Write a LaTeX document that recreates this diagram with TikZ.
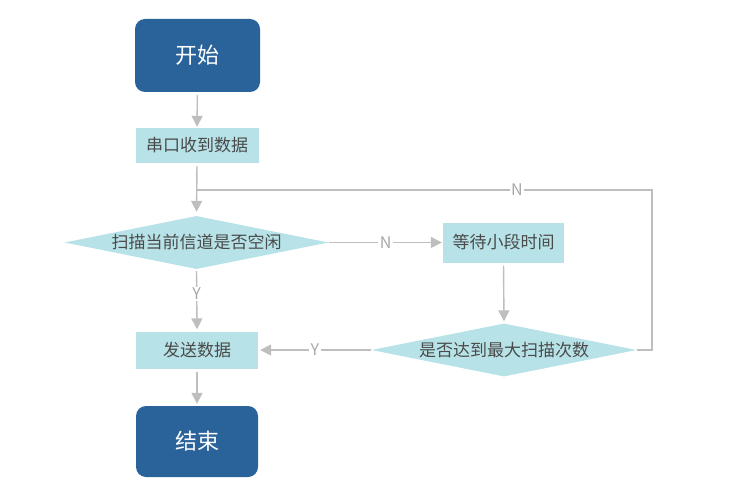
\documentclass[tikz,border=0pt]{standalone}
\usepackage{fontspec}
\setmainfont{Noto Sans CJK SC}
\usetikzlibrary{shapes.geometric,arrows.meta}
\definecolor{darkblue}{HTML}{2A6399}
\definecolor{lightcyan}{HTML}{B7E2E7}
\definecolor{linegray}{HTML}{BEBEBE}
\definecolor{lblgray}{HTML}{A8A8A8}
\definecolor{txtgray}{HTML}{4A4A4A}
\tikzset{
  terminal/.style={draw=none, fill=darkblue, rounded corners=10pt, text=white,
    font=\fontsize{22}{26}\selectfont, inner sep=0pt},
  procbox/.style={draw=none, fill=lightcyan, text=txtgray,
    font=\fontsize{17}{20}\selectfont, inner sep=0pt},
  decision/.style={draw=none, fill=lightcyan, text=txtgray, shape=diamond,
    aspect=5, inner sep=0pt, font=\fontsize{17}{20}\selectfont},
  conn/.style={draw=linegray, line width=1.4pt},
  arr/.style={conn, -{Triangle[length=11pt,width=11pt]}},
  lbl/.style={fill=white, text=lblgray, inner sep=1.5pt, font=\fontsize{16}{18}\selectfont}
}
\begin{document}
\begin{tikzpicture}[x=1pt,y=-1pt]
\useasboundingbox (0,0) rectangle (751,494);
\node[terminal, minimum width=125pt, minimum height=73pt] (start) at (197.5,55.5) {开始};
\node[procbox, minimum width=123pt, minimum height=35pt] (recv) at (197,145.5) {串口收到数据};
\node[decision, minimum width=264pt, minimum height=53pt] (d1) at (196.5,242.5) {扫描当前信道是否空闲};
\node[procbox, minimum width=121pt, minimum height=40pt] (wait) at (503.5,242.5) {等待小段时间};
\node[decision, minimum width=265pt, minimum height=53pt] (d2) at (504,350) {是否达到最大扫描次数};
\node[procbox, minimum width=122pt, minimum height=37pt] (send) at (197,350) {发送数据};
\node[terminal, minimum width=122pt, minimum height=71pt] (end) at (197,441.5) {结束};
\coordinate (cr) at (652,190);
\coordinate (j) at (197,190);

\draw[arr, shorten <=3pt, shorten >=1pt] (start) -- (recv);
\draw[arr, shorten <=3pt, shorten >=4pt] (recv.south) -- (d1.north);
\draw[arr, shorten >=1pt] (d1.east) -- node[lbl, pos=0.5]{N} (wait.west);
\draw[arr, shorten <=3pt, shorten >=2pt] (wait.south) -- (d2.north);
\draw[conn] (d2.east) -| (cr) -- node[lbl, pos=0.297]{N} (j);
\draw[arr, shorten <=2pt, shorten >=2pt] (d1.south) -- node[lbl, pos=0.4]{Y} (send.north);
\draw[arr, shorten >=2pt] (d2.west) -- node[lbl, pos=0.5]{Y} (send.east);
\draw[arr, shorten <=3pt, shorten >=2pt] (send.south) -- (end.north);
\end{tikzpicture}
\end{document}
